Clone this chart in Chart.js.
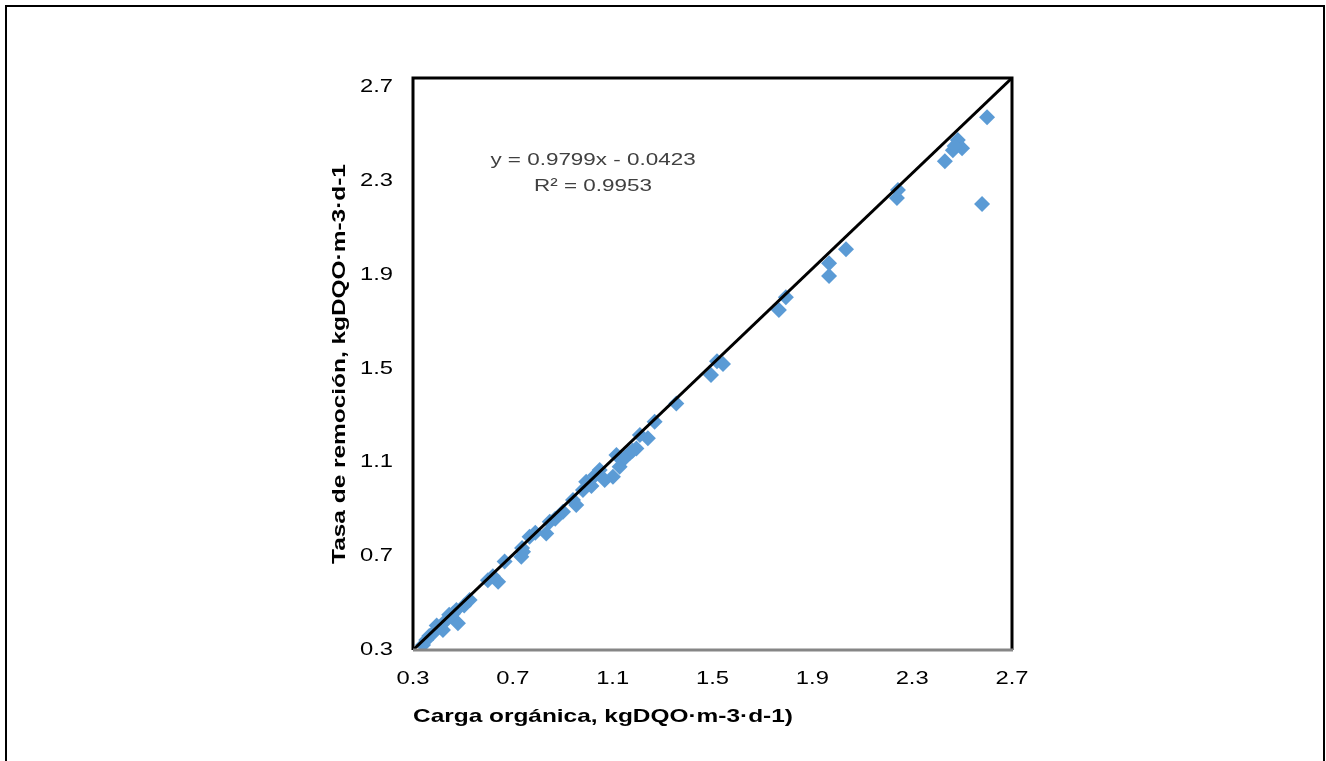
<!DOCTYPE html>
<html>
<head>
<meta charset="utf-8">
<script src="https://cdn.jsdelivr.net/npm/chart.js@4/dist/chart.umd.min.js"></script>
<style>
  html, body { margin: 0; padding: 0; background: #fff; }
  canvas { display: block; }
</style>
</head>
<body>
<canvas id="grafico" width="1326" height="761"></canvas>
<script>
// carga orgánica (x) y tasa de remoción (y), kgDQO·m-3·d-1
const carga = [
  2.60, 2.58, 2.483, 2.463, 2.50, 2.431, 2.47, 2.243, 2.239, 2.035,
  1.967, 1.967, 1.794, 1.766, 1.542, 1.518, 1.494,
  1.355, 1.268, 1.241, 1.209, 1.195, 1.168, 1.115, 1.128, 1.101, 1.048,
  1.068, 0.994, 0.981, 0.941, 0.954, 0.901, 0.848, 0.834, 0.767, 0.741,
  0.734, 0.737, 0.667, 0.641, 0.600, 0.527, 0.474, 0.480, 0.434, 0.420,
  0.380, 0.353, 0.340,
  1.150, 1.180, 1.015, 1.030, 0.870, 0.790, 0.620, 0.505, 0.445, 0.395,
  0.365, 0.460
];
const remocion = [
  2.573, 2.202, 2.475, 2.432, 2.44, 2.385, 2.45, 2.262, 2.228, 2.010,
  1.950, 1.895, 1.805, 1.750, 1.520, 1.532, 1.473,
  1.352, 1.274, 1.203, 1.217, 1.160, 1.139, 1.132, 1.082, 1.039, 1.068,
  1.025, 1.018, 0.982, 0.940, 0.918, 0.890, 0.847, 0.797, 0.783, 0.719,
  0.698, 0.735, 0.677, 0.591, 0.598, 0.513, 0.471, 0.414, 0.428, 0.385,
  0.371, 0.343, 0.321,
  1.120, 1.150, 1.000, 1.045, 0.860, 0.800, 0.615, 0.490, 0.450, 0.405,
  0.360, 0.455
];

// línea de referencia
const lineaX = [0.3, 2.7];
const lineaY = [0.3, 2.74];

const xTicks = [0.3, 0.7, 1.1, 1.5, 1.9, 2.3, 2.7];
const yTicks = [0.3, 0.7, 1.1, 1.5, 1.9, 2.3, 2.7];
const yMax = 2.74;

const ecuacion = ["y = 0.9799x - 0.0423", "R² = 0.9953"];

const fuente = "'Liberation Sans', Arial, sans-serif";

const canvas = document.getElementById("grafico");
const ctx = canvas.getContext("2d");

// el texto del original sale estirado en horizontal
const fillOriginal = ctx.fillText.bind(ctx);
ctx.fillText = function (text, x, y) {
  this.save();
  this.translate(x, y);
  this.scale(1.32, 1);
  fillOriginal(text, 0, 0);
  this.restore();
};

const marcos = {
  id: "marcos",
  afterDraw(chart) {
    const c = chart.ctx;
    const a = chart.chartArea;
    c.save();
    // marco exterior
    c.strokeStyle = "#000";
    c.lineWidth = 2;
    c.beginPath();
    c.moveTo(6, 765);
    c.lineTo(6, 6);
    c.lineTo(1324, 6);
    c.lineTo(1324, 765);
    c.stroke();
    // borde del área de trazado
    c.lineWidth = 3;
    c.beginPath();
    c.moveTo(a.left, a.bottom);
    c.lineTo(a.left, a.top);
    c.lineTo(a.right, a.top);
    c.lineTo(a.right, a.bottom);
    c.stroke();
    c.strokeStyle = "#868686";
    c.beginPath();
    c.moveTo(a.left, a.bottom);
    c.lineTo(a.right + 1, a.bottom);
    c.stroke();
    // ecuación
    c.fillStyle = "#404040";
    c.font = "17px " + fuente;
    c.textAlign = "center";
    c.textBaseline = "middle";
    c.fillText(ecuacion[0], a.left + 180, a.top + 82);
    c.fillText(ecuacion[1], a.left + 180, a.top + 108);
    c.restore();
  },
};

const puntos = carga.map((v, i) => ({ x: v, y: remocion[i] }));
const linea = lineaX.map((v, i) => ({ x: v, y: lineaY[i] }));

new Chart(ctx, {
  type: "scatter",
  data: {
    datasets: [
      {
        data: linea,
        showLine: true,
        borderColor: "#000",
        borderWidth: 3,
        pointRadius: 0,
        order: 0,
      },
      {
        data: puntos,
        pointStyle: "rectRot",
        pointRadius: 8,
        pointHoverRadius: 8,
        backgroundColor: "#5B9BD5",
        borderWidth: 0,
        order: 1,
      },
    ],
  },
  options: {
    responsive: false,
    animation: false,
    events: [],
    layout: {
      padding: { left: 320, right: 314, top: 78, bottom: 30 },
    },
    plugins: {
      legend: { display: false },
      tooltip: { enabled: false },
    },
    scales: {
      x: {
        type: "linear",
        min: 0.3,
        max: 2.7,
        afterBuildTicks: (s) => { s.ticks = xTicks.map((v) => ({ value: v })); },
        afterFit: (s) => { s.height = 81; },
        grid: { display: false, drawTicks: false },
        border: { display: false },
        ticks: {
          padding: 18,
          color: "#000",
          font: { family: fuente, size: 18 },
          callback: (v) => Number(v).toFixed(1),
        },
        title: {
          display: true,
          align: "start",
          text: "Carga orgánica, kgDQO·m-3·d-1)",
          color: "#000",
          font: { family: fuente, size: 18.5, weight: "bold" },
          padding: { top: 0, bottom: 3 },
        },
      },
      y: {
        type: "linear",
        min: 0.3,
        max: yMax,
        afterBuildTicks: (s) => { s.ticks = yTicks.map((v) => ({ value: v })); },
        afterFit: (s) => { s.width = 93; },
        grid: { display: false, drawTicks: false },
        border: { display: false },
        ticks: {
          padding: 20,
          color: "#000",
          font: { family: fuente, size: 18 },
          callback: (v) => Number(v).toFixed(1),
        },
        title: {
          display: true,
          text: "Tasa de remoción, kgDQO·m-3·d-1",
          color: "#000",
          font: { family: fuente, size: 18.5, weight: "bold" },
          padding: { top: 9, bottom: 0 },
        },
      },
    },
  },
  plugins: [marcos],
});
</script>
</body>
</html>
